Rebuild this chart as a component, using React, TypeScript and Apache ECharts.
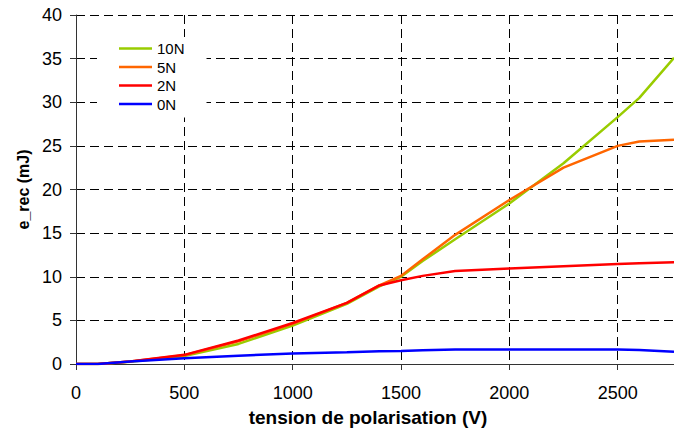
import React, { useEffect, useRef } from "react";
import * as echarts from "echarts";

// Voltage (V)
const voltage = [0, 100, 250, 500, 750, 1000, 1250, 1400, 1500, 1600, 1750, 2000, 2250, 2500, 2600, 2760];
// e_rec (mJ)
const n10 = [0, 0, 0.25, 0.9, 2.3, 4.4, 6.9, 8.9, 10.0, 11.8, 14.3, 18.4, 23.0, 28.3, 30.5, 35.1];
const n5 = [0, 0, 0.3, 1.0, 2.6, 4.6, 7.0, 9.0, 10.1, 12.0, 14.8, 18.8, 22.5, 25.0, 25.5, 25.7];
const n2 = [0, 0, 0.3, 1.05, 2.7, 4.7, 7.0, 9.0, 9.6, 10.1, 10.65, 10.95, 11.2, 11.45, 11.55, 11.65];
const n0 = [0, 0, 0.3, 0.65, 0.95, 1.2, 1.35, 1.45, 1.5, 1.58, 1.65, 1.65, 1.65, 1.65, 1.6, 1.4];

const seriesNames = ["10N", "5N", "2N", "0N"];
const seriesValues = [n10, n5, n2, n0];
const seriesColors = ["#99CC00", "#FF6600", "#FF0000", "#0000FF"];

const FONT = "'Liberation Sans', Arial, sans-serif";

export default function App() {
  const ref = useRef<HTMLDivElement>(null);
  useEffect(() => {
    if (!ref.current) return;
    const chart = echarts.init(ref.current, undefined, { renderer: "svg" });
    chart.setOption({
      animation: false,
      backgroundColor: "#fff",
      grid: {
        left: 76,
        top: 15,
        width: 650,
        height: 349,
        containLabel: false,
        outerBoundsMode: "none",
      },
      legend: {
        orient: "vertical",
        left: 97,
        top: 37,
        backgroundColor: "#fff",
        padding: [4, 22, 6, 22],
        itemWidth: 33,
        itemHeight: 15,
        itemGap: 3.5,
        icon: "path://M0 0H33V2.5H0Z",
        data: seriesNames,
        textStyle: { fontFamily: FONT, fontSize: 15, color: "#000", lineHeight: 15 },
      },
      xAxis: {
        type: "value",
        min: 0,
        max: 3000,
        interval: 500,
        name: "tension de polarisation (V)",
        nameLocation: "middle",
        nameGap: 44,
        nameTextStyle: {
          fontFamily: FONT,
          fontSize: 19,
          fontWeight: "bold",
          color: "#000",
          padding: [0, 66, 0, 0],
        },
        axisLine: { show: true, lineStyle: { color: "#333", width: 1 } },
        axisTick: { show: true, length: 6, lineStyle: { color: "#333" } },
        axisLabel: {
          fontFamily: FONT,
          fontSize: 18,
          color: "#000",
          margin: 20,
          showMaxLabel: false,
          formatter: (v: number) => String(v),
        },
        splitLine: {
          show: true,
          lineStyle: { color: "#000", width: 1, type: [9, 5] },
        },
      },
      yAxis: {
        type: "value",
        min: 0,
        max: 40,
        interval: 5,
        name: "e_rec (mJ)",
        nameLocation: "middle",
        nameGap: 45,
        nameTextStyle: { fontFamily: FONT, fontSize: 16, fontWeight: "bold", color: "#000" },
        axisLine: { show: true, lineStyle: { color: "#333", width: 1 } },
        axisTick: { show: true, length: 6, lineStyle: { color: "#333" } },
        axisLabel: { fontFamily: FONT, fontSize: 18, color: "#000", margin: 14 },
        splitLine: {
          show: true,
          lineStyle: { color: "#000", width: 1, type: [9, 5] },
        },
      },
      series: seriesNames.map((name, i) => ({
        name,
        type: "line",
        data: voltage.map((v, j) => [v, seriesValues[i][j]]),
        symbol: "none",
        color: seriesColors[i],
        lineStyle: { color: seriesColors[i], width: 2.5 },
        z: 2 + i,
      })),
    });
    return () => chart.dispose();
  }, []);
  return (
    <div
      ref={ref}
      style={{ position: "fixed", left: 0, top: 0, width: 674, height: 434, overflow: "hidden", background: "#fff" }}
    />
  );
}
